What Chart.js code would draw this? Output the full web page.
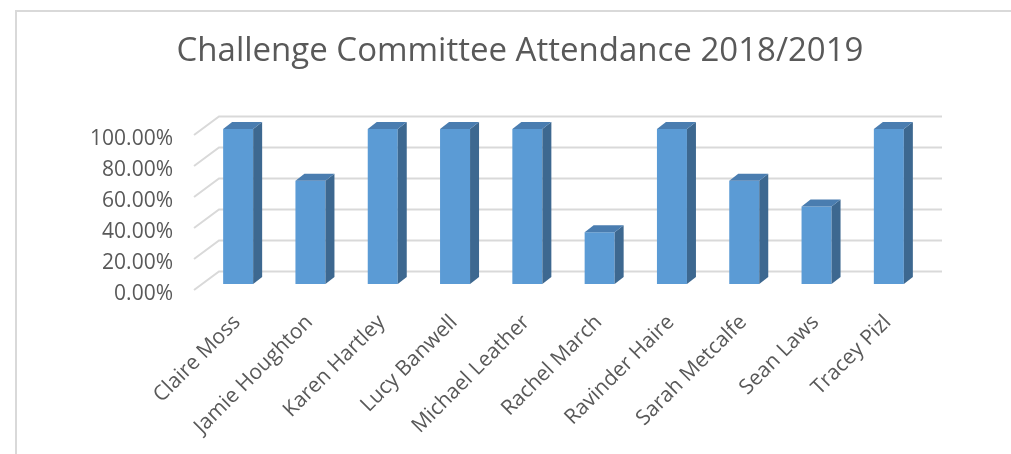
<!DOCTYPE html>
<html>
<head>
<meta charset="utf-8">
<script src="https://cdn.jsdelivr.net/npm/chart.js@4/dist/chart.umd.min.js"></script>
<style>
    html, body { margin: 0; padding: 0; background: #fff; overflow: hidden; }
    #frame { position: absolute; left: 15px; top: 10px; width: 1100px; height: 600px; border-top: 2px solid #d9d9d9; border-left: 2px solid #d9d9d9; }
    #attendance { position: absolute; left: 0; top: 0; }
</style>
</head>
<body>
<div id="frame"></div>
<canvas id="attendance" width="1011" height="454"></canvas>
<script>
/* Dane do wykresu */
var chartTitle = 'Challenge Committee Attendance 2018/2019';
var names = ['Claire Moss', 'Jamie Houghton', 'Karen Hartley', 'Lucy Banwell', 'Michael Leather',
    'Rachel March', 'Ravinder Haire', 'Sarah Metcalfe', 'Sean Laws', 'Tracey Pizl'];
var attendance = [1, 0.6667, 1, 1, 1, 0.3333, 1, 0.6667, 0.5, 1];
var yTicks = [0, 0.2, 0.4, 0.6, 0.8, 1];

/* Przesunięcia "3D" */
var frontDy = -4;                  // przednia krawędź siatki względem etykiet osi Y
var wallDx = 25, wallDy = -18.5;   // tylna ściana względem przedniej krawędzi
var barDx = 8, barDy = -10;        // przód słupka względem skali
var depthDx = 9, depthDy = -7;     // głębokość słupka

var colFront = '#5b9bd5';
var colSide = '#3d6890';
var colTop = '#4a7db0';
var colText = '#595959';

var wall3d = {
    id: 'wall3d',
    beforeDatasetsDraw: function (chart) {
        var ctx = chart.ctx;
        var area = chart.chartArea;
        var y = chart.scales.y;
        ctx.save();
        ctx.strokeStyle = '#d9d9d9';
        ctx.lineWidth = 2;
        yTicks.forEach(function (v) {
            var py = y.getPixelForValue(v) + frontDy;
            ctx.beginPath();
            ctx.moveTo(area.left, py);
            ctx.lineTo(area.left + wallDx, py + wallDy);
            ctx.lineTo(area.right + wallDx, py + wallDy);
            ctx.stroke();
        });
        ctx.restore();
        ctx.save();
        ctx.translate(barDx, barDy);
    },
    afterDatasetsDraw: function (chart) {
        var ctx = chart.ctx;
        var meta = chart.getDatasetMeta(0);
        meta.data.forEach(function (bar) {
            var left = bar.x - bar.width / 2;
            var right = bar.x + bar.width / 2;
            var top = bar.y;
            var base = bar.base;
            // bok
            ctx.fillStyle = colSide;
            ctx.beginPath();
            ctx.moveTo(right, top);
            ctx.lineTo(right + depthDx, top + depthDy);
            ctx.lineTo(right + depthDx, base + depthDy);
            ctx.lineTo(right, base);
            ctx.closePath();
            ctx.fill();
            // góra
            ctx.fillStyle = colTop;
            ctx.beginPath();
            ctx.moveTo(left, top);
            ctx.lineTo(left + depthDx, top + depthDy);
            ctx.lineTo(right + depthDx, top + depthDy);
            ctx.lineTo(right, top);
            ctx.closePath();
            ctx.fill();
        });
        ctx.restore();
    },
    afterDraw: function (chart) {
        var ctx = chart.ctx;
        ctx.save();
        ctx.fillStyle = colText;
        ctx.font = '33px "Open Sans"';
        ctx.textAlign = 'center';
        ctx.textBaseline = 'middle';
        ctx.fillText(chartTitle, 520, 52);
        ctx.restore();
    }
};

var ctxAttendance = document.getElementById('attendance');

var chartAttendance = new Chart(ctxAttendance, {
    type: 'bar',
    data: {
        labels: names,
        datasets: [
            {
                label: 'Attendance',
                data: attendance,
                backgroundColor: colFront,
                borderWidth: 0,
                barPercentage: 0.415,
                categoryPercentage: 1
            }
        ]
    },
    options: {
        responsive: false,
        maintainAspectRatio: false,
        animation: false,
        layout: {
            padding: { left: 0, right: 94, top: 139, bottom: 0 }
        },
        plugins: {
            legend: { display: false },
            tooltip: { enabled: false },
            title: { display: false }
        },
        scales: {
            x: {
                grid: { display: false },
                border: { display: false },
                ticks: {
                    color: colText,
                    font: { family: 'Open Sans', size: 21 },
                    minRotation: 45,
                    maxRotation: 45,
                    autoSkip: false,
                    padding: 8,
                    labelOffset: 7
                },
                afterFit: function (scale) { scale.height = 160; }
            },
            y: {
                min: 0,
                max: 1,
                grid: { display: false },
                border: { display: false },
                ticks: {
                    stepSize: 0.2,
                    color: colText,
                    font: { family: 'Open Sans', size: 21 },
                    padding: 13,
                    callback: function (v) { return (v * 100).toFixed(2) + '%'; }
                },
                afterFit: function (scale) { scale.width = 194; }
            }
        }
    },
    plugins: [wall3d]
});
</script>
</body>
</html>
